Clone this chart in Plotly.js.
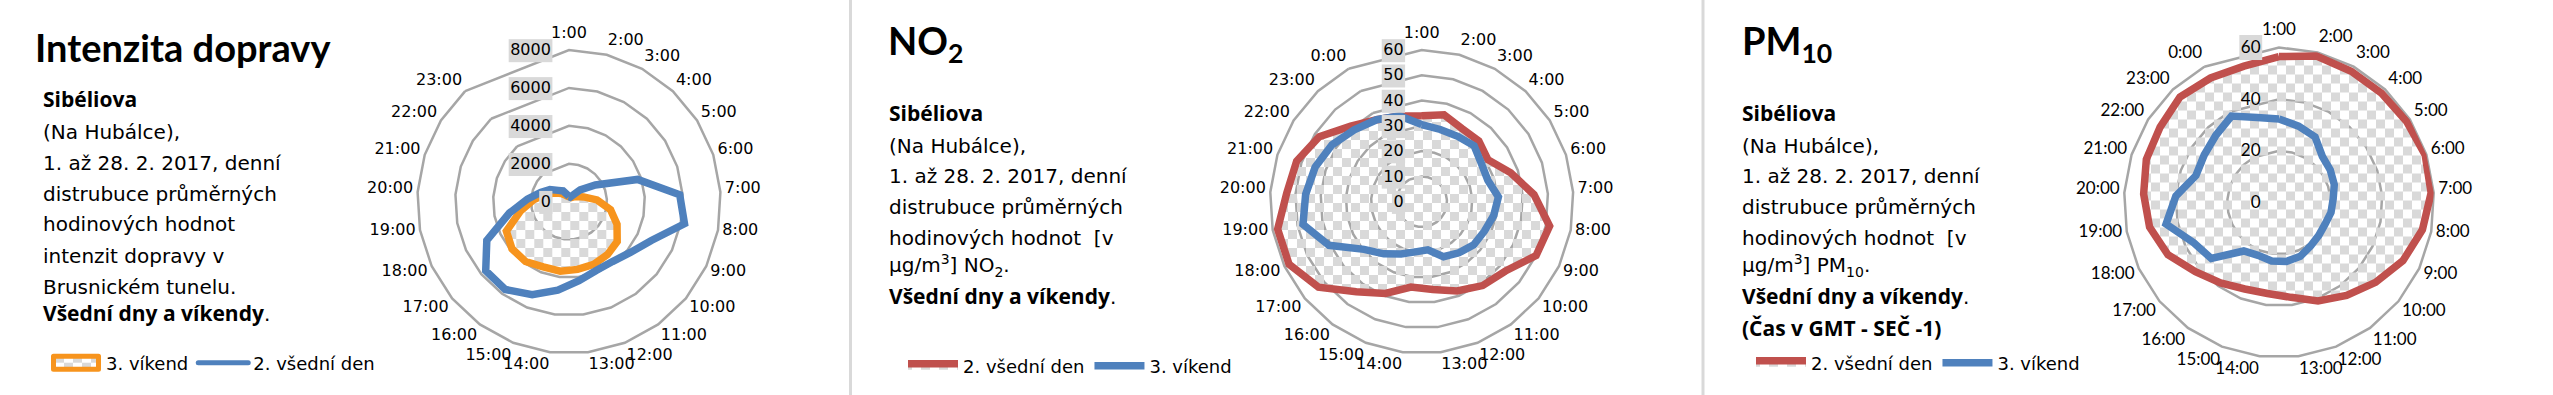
<!DOCTYPE html>
<html><head><meta charset="utf-8">
<script src="https://cdn.plot.ly/plotly-3.0.1.min.js"></script>
<style>html,body{margin:0;padding:0;background:#fff;}#chart{width:2553px;height:395px;}</style>
</head><body><div id="chart"></div>
<script>
// ---- categories & tick labels ----
const hourCats = ['1:00','2:00','3:00','4:00','5:00','6:00','7:00','8:00','9:00','10:00','11:00','12:00','13:00','14:00','15:00','16:00','17:00','18:00','19:00','20:00','21:00','22:00','23:00','0:00','24:00'];
const trafficTickText = ['1:00','2:00','3:00','4:00','5:00','6:00','7:00','8:00','9:00','10:00','11:00','12:00','13:00','14:00','15:00','16:00','17:00','18:00','19:00','20:00','21:00','22:00','23:00','',''];
const airTickText = ['1:00','2:00','3:00','4:00','5:00','6:00','7:00','8:00','9:00','10:00','11:00','12:00','13:00','14:00','15:00','16:00','17:00','18:00','19:00','20:00','21:00','22:00','23:00','0:00',''];
const trafficTicks = [0, 2000, 4000, 6000, 8000];
const no2Ticks = [0, 10, 20, 30, 40, 50, 60];
const pm10Ticks = [0, 20, 40, 60];

// ---- series values ----
const trafficWeekend = [270, 250, 250, 350, 500, 810, 1480, 2230, 2800, 3300, 3450, 3550, 3600, 3690, 3700, 3900, 3900, 3650, 2600, 1850, 1300, 850, 600, 400, 300];
const trafficWeekday = [270, 250, 370, 860, 1650, 3800, 5850, 6200, 4800, 4200, 3900, 3900, 4200, 4700, 5270, 5720, 5700, 4790, 3200, 2200, 1580, 1190, 820, 650, 380];
const no2Weekday = [34, 35.5, 33, 33, 31, 37, 44.5, 51.5, 50, 43, 41, 38, 35, 34, 39, 44, 53, 58, 58, 53.5, 52, 48, 41, 37, 35];
const no2Weekend = [30.5, 29.5, 29.5, 30.3, 28, 27.5, 30.4, 29, 27.4, 26.7, 25, 23.4, 19.2, 20, 22.2, 25.5, 29.6, 40.5, 47.8, 46, 44.3, 42, 39, 37, 35];
const pm10Weekday = [56.5, 58.5, 58, 58, 58.5, 59.5, 59, 56.5, 53, 48.5, 44.5, 41, 37, 35.5, 36, 38.5, 42, 47.5, 51, 52.5, 54, 54.5, 56, 55, 54.5];
const pm10Weekend = [32.3, 30.5, 29, 24.5, 23.5, 22.5, 21, 20.5, 19.7, 20, 20.8, 22.4, 23, 22.8, 22, 23.2, 34, 36.5, 44.5, 40, 33.8, 34.3, 35.7, 38.2, 34];

// ---- texts ----
const B = s => '<b><span style="font-family:Open Sans;font-size:21px">' + s + '</span></b>';
const titles = ['<b>Intenzita dopravy</b>', '<b>NO<sub>2</sub></b>', '<b>PM<sub>10</sub></b>'];
const text1 = [B('Sibéliova'), '(Na Hubálce),', '1. až 28. 2. 2017, denní', 'distrubuce průměrných', 'hodinových hodnot', 'intenzit dopravy v', 'Brusnickém tunelu.', B('Všední dny a víkendy') + '.'];
const text2 = [B('Sibéliova'), '(Na Hubálce),', '1. až 28. 2. 2017, denní', 'distrubuce průměrných', 'hodinových hodnot \u00A0[v', 'µg/m<sup>3</sup>] NO<sub>2</sub>.', B('Všední dny a víkendy') + '.'];
const text3 = [B('Sibéliova'), '(Na Hubálce),', '1. až 28. 2. 2017, denní', 'distrubuce průměrných', 'hodinových hodnot \u00A0[v', 'µg/m<sup>3</sup>] PM<sub>10</sub>.', B('Všední dny a víkendy') + '.', B('(Čas v GMT - SEČ -1)')];

const W = 2553, H = 395;
const ORANGE = '#F7941D', BLUE = '#4F81BD', RED = '#C0504D', GRID = '#a6a6a6';
const LW = 7.5;

function closed(a) { return a.concat([a[0]]); }

function tr(name, vals, color, filled, subplot, legend) {
  const t = {
    type: 'scatterpolar', name: name, r: closed(vals), theta: closed(hourCats),
    subplot: subplot, legend: legend, mode: 'lines',
    line: {color: color, width: LW}, hoverinfo: 'skip'
  };
  if (filled) { t.fill = 'toself'; t.fillcolor = 'rgba(217,217,217,0.5)'; }
  return t;
}

const traces = [
  tr('3. víkend', trafficWeekend, ORANGE, true, 'polar', 'legend'),
  tr('2. všední den', trafficWeekday, BLUE, false, 'polar', 'legend'),
  tr('2. všední den', no2Weekday, RED, true, 'polar2', 'legend2'),
  tr('3. víkend', no2Weekend, BLUE, false, 'polar2', 'legend2'),
  tr('2. všední den', pm10Weekday, RED, true, 'polar3', 'legend3'),
  tr('3. víkend', pm10Weekend, BLUE, false, 'polar3', 'legend3')
];

function polarCfg(cx, cy, R, range, ticks, tickText, fam, fs) {
  const tv = hourCats.filter((c, i) => tickText[i] !== '');
  const tt = tickText.filter(t => t !== '');
  return {
    domain: {x: [(cx - R) / W, (cx + R) / W], y: [1 - (cy + R) / H, 1 - (cy - R) / H]},
    bgcolor: 'rgba(0,0,0,0)',
    gridshape: 'linear',
    angularaxis: {
      type: 'category', categoryorder: 'array', categoryarray: hourCats,
      rotation: 90, direction: 'clockwise',
      tickmode: 'array', tickvals: tv, ticktext: tt,
      showgrid: false, showline: true, linecolor: GRID, linewidth: 2.5,
      ticks: '', layer: 'below traces',
      tickfont: {family: fam, size: fs, color: '#000'}
    },
    radialaxis: {
      range: range, tickmode: 'array', tickvals: ticks, angle: 90, side: 'counterclockwise',
      tickangle: 90,
      showline: false, showgrid: true, gridcolor: GRID, gridwidth: 2.5,
      ticks: 'outside', ticklen: 12, tickcolor: 'rgba(0,0,0,0)',
      tickfont: {family: fam, size: fs, color: '#000'}
    }
  };
}

const annotations = [];
function txt(x, baseline, text, size, fam) {
  const desc = fam === 'Lato' ? 0.213 : 0.236;
  annotations.push({
    xref: 'paper', yref: 'paper', x: x / W, y: 1 - (baseline + desc * size + 2) / H,
    xanchor: 'left', yanchor: 'bottom', showarrow: false, align: 'left',
    text: text, font: {family: fam, size: size, color: '#000'}
  });
}
txt(33, 62, titles[0], 38, 'Lato');
txt(886, 61, titles[1], 38, 'Lato');
txt(1740, 61, titles[2], 38, 'Lato');
const base1 = [108, 139, 170, 201, 231, 263, 294, 322];
const base2 = [122, 153, 183, 214, 245, 275, 305];
const base3 = [122, 153, 183, 214, 245, 275, 305, 337];
text1.forEach((s, i) => txt(41, base1[i], s, 20, 'DejaVu Sans'));
text2.forEach((s, i) => txt(887, base2[i], s, 20, 'DejaVu Sans'));
text3.forEach((s, i) => txt(1740, base3[i], s, 20, 'DejaVu Sans'));

function leg(x, yc) {
  return {x: x / W, y: 1 - yc / H, xanchor: 'left', yanchor: 'middle', orientation: 'h',
    font: {family: 'DejaVu Sans', size: 18, color: '#000'}, bgcolor: 'rgba(0,0,0,0)',
    itemwidth: 50, traceorder: 'normal', borderwidth: 0};
}

const layout = {
  width: W, height: H, margin: {l: 0, r: 0, t: 0, b: 0},
  paper_bgcolor: '#fff', showlegend: true,
  polar: polarCfg(569, 201.7, 151.7, [0, 8000], trafficTicks, trafficTickText, 'DejaVu Sans', 16),
  polar2: polarCfg(1421.7, 201.7, 151.7, [0, 60], no2Ticks, airTickText, 'DejaVu Sans', 16),
  polar3: polarCfg(2279, 202.5, 155, [0, 60], pm10Ticks, airTickText, 'Lato', 17),
  legend: leg(46, 363),
  legend2: leg(903, 366),
  legend3: leg(1751, 363),
  annotations: annotations,
  shapes: [
    {type: 'line', xref: 'paper', yref: 'paper', x0: 850.5 / W, x1: 850.5 / W, y0: 0, y1: 1, line: {color: '#d9d9d9', width: 3}},
    {type: 'line', xref: 'paper', yref: 'paper', x0: 1703 / W, x1: 1703 / W, y0: 0, y1: 1, line: {color: '#d9d9d9', width: 3}}
  ]
};

const boxRule = [v => true, v => true, v => v === '60'];

function decorate(gd) {
  const NS = 'http://www.w3.org/2000/svg';
  const svg = gd.querySelector('svg.main-svg');
  let defs = svg.querySelector('defs');
  if (!defs) { defs = document.createElementNS(NS, 'defs'); svg.insertBefore(defs, svg.firstChild); }
  const pat = document.createElementNS(NS, 'pattern');
  pat.setAttribute('id', 'chk'); pat.setAttribute('patternUnits', 'userSpaceOnUse');
  pat.setAttribute('width', 18); pat.setAttribute('height', 18);
  [[0, 0], [9, 9]].forEach(p => {
    const r = document.createElementNS(NS, 'rect');
    r.setAttribute('x', p[0]); r.setAttribute('y', p[1]); r.setAttribute('width', 9); r.setAttribute('height', 9);
    r.setAttribute('fill', '#d9d9d9');
    pat.appendChild(r);
  });
  defs.appendChild(pat);
  gd.querySelectorAll('path.js-fill').forEach(p => { p.style.fill = 'url(#chk)'; p.style.fillOpacity = 1; });
  const polars = gd.querySelectorAll('.polarlayer > g');
  polars.forEach((pg, i) => {
    // gray boxes behind radial tick labels
    pg.querySelectorAll('.radial-axis text').forEach(t => {
      if (!boxRule[i] || !boxRule[i](t.textContent)) return;
      const bb = t.getBBox();
      const r = document.createElementNS(NS, 'rect');
      r.setAttribute('x', bb.x - 1.5); r.setAttribute('y', bb.y - 1);
      r.setAttribute('width', bb.width + 3); r.setAttribute('height', bb.height + 4);
      r.setAttribute('fill', '#d9d9d9');
      const tf = t.getAttribute('transform'); if (tf) r.setAttribute('transform', tf);
      t.parentNode.insertBefore(r, t);
    });
    // angular labels sit a little higher in the original
    const ang = pg.querySelector('.angular-axis');
    if (ang) {
      const tf = ang.getAttribute('transform') || '';
      ang.setAttribute('transform', tf + ' translate(0,-4)');
    }
  });
  // legend swatches: bordered box for filled series, thinner line for the others
  gd.querySelectorAll('.legend .traces').forEach(tg => {
    const lineP = tg.querySelector('.legendlines path');
    const fillP = tg.querySelector('.legendfill path');
    if (!lineP) return;
    if (fillP) {
      const bb = lineP.getBBox();
      const x0 = bb.x + 2.5, x1 = bb.x + bb.width - 2.5;
      fillP.setAttribute('d', 'M' + x0 + ',-6.5H' + x1 + 'V6.5H' + x0 + 'Z');
      fillP.style.fill = 'url(#chk)';
      fillP.style.stroke = lineP.style.stroke;
      fillP.style.strokeWidth = '5px';
      fillP.style.strokeLinejoin = 'round';
      lineP.style.display = 'none';
    } else {
      lineP.style.strokeWidth = '5px';
      lineP.style.strokeLinecap = 'round';
    }
  });
}

Plotly.newPlot('chart', traces, layout, {staticPlot: true, displayModeBar: false}).then(decorate);
</script>
</body></html>
